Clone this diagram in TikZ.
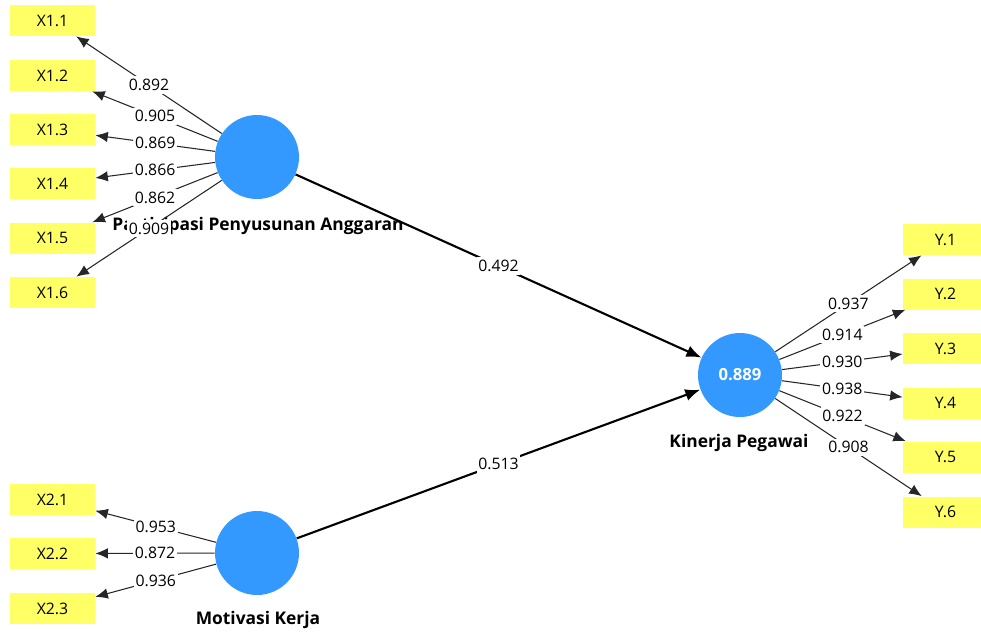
\documentclass[tikz,border=0pt]{standalone}
\usepackage{fontspec}
\setmainfont{Open Sans}
\usetikzlibrary{arrows.meta}
\definecolor{lvblue}{RGB}{51,153,255}
\definecolor{mvyellow}{RGB}{255,255,102}
\tikzset{
  indicator/.style={fill=mvyellow, minimum width=1.7cm, minimum height=0.62cm, inner sep=0pt, font=\fontsize{9}{10}\selectfont},
  latent/.style={circle, fill=lvblue, minimum size=1.68cm, inner sep=0pt, text=white, font=\bfseries\fontsize{9.5}{10}\selectfont},
  lvname/.style={font=\bfseries\fontsize{9.9}{11}\selectfont, inner sep=0pt},
  loading/.style={draw=black!85, line width=0.6pt, -{Latex[length=2.5mm,width=2.1mm]}},
  inner/.style={draw=black, line width=1.2pt, -{Latex[length=3mm,width=2.4mm]}},
  coef/.style={fill=white, inner xsep=1pt, inner ysep=1.6pt, font=\fontsize{9}{10}\selectfont}
}

\begin{document}
\begin{tikzpicture}[x=0.02cm,y=-0.02cm]
\useasboundingbox (0,0) rectangle (981,633);
\clip (0,0) rectangle (981,633);

% latent variables
\node[latent] (pp) at (257,157) {};
\node[latent] (mk) at (257,553) {};
\node[latent] (kp) at (740,375) {0.889};
\node[lvname] (pplabel) at (258,226) {Partisipasi Penyusunan Anggaran};
\node[lvname] (mklabel) at (258,620) {Motivasi Kerja};
\node[lvname] (kplabel) at (739,443) {Kinerja Pegawai};

% structural paths
\draw[inner] (pp) -- node[coef]{0.492} (kp);
\draw[inner] (mk) -- node[coef]{0.513} (kp);

% indicators of X1
\foreach \i/\y/\v in {1/20.5/0.892, 2/75.5/0.905, 3/129.5/0.869, 4/183.5/0.866, 5/238/0.862, 6/292.5/0.909}{
	\node[indicator] (x1\i) at (52.5,\y) {X1.\i};
	\draw[loading] (pp) -- node[coef]{\v} (x1\i);
	}

% indicators of X2
\foreach \i/\y/\v in {1/499.5/0.953, 2/553.5/0.872, 3/608.5/0.936}{
	\node[indicator] (x2\i) at (52.5,\y) {X2.\i};
	\draw[loading] (mk) -- node[coef]{\v} (x2\i);
	}

% indicators of Y
\foreach \i/\y/\v in {1/239.5/0.937, 2/294/0.914, 3/348.5/0.930, 4/403/0.938, 5/457/0.922, 6/512/0.908}{
	\node[indicator] (y\i) at (945.5,\y) {Y.\i};
	\draw[loading] (kp) -- node[coef]{\v} (y\i);
	}
\end{tikzpicture}
\end{document}
